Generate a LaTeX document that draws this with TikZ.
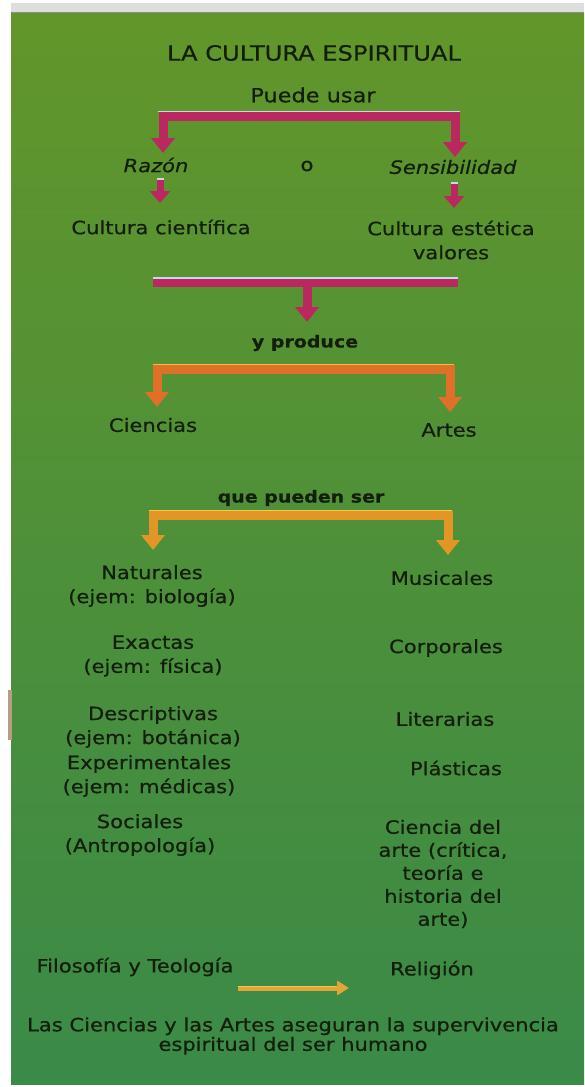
\documentclass[tikz,border=0pt]{standalone}
\usepackage{fontspec}
\setmainfont{DejaVu Sans}[FakeStretch=1.15,FakeBold=0.6]
\usetikzlibrary{arrows.meta,calc}
\definecolor{txt}{RGB}{20,30,12}
\definecolor{gtop}{RGB}{98,150,42}
\definecolor{gmid}{RGB}{74,140,52}
\definecolor{gbot}{RGB}{58,138,72}
\definecolor{mag}{RGB}{186,40,96}
\definecolor{maghl}{RGB}{200,215,235}
\definecolor{org}{RGB}{222,112,42}
\definecolor{orghl}{RGB}{238,190,60}
\definecolor{yor}{RGB}{226,150,40}
\definecolor{yorhl}{RGB}{240,205,70}
\definecolor{finarr}{RGB}{228,165,55}
\begin{document}
\begin{tikzpicture}[x=1pt,y=-1pt,
  lbl/.style={text=txt,inner sep=0pt,align=center,font=\fontsize{18.3}{24}\selectfont},
  itl/.style={lbl,font=\fontsize{18.3}{24}\selectfont\itshape},
  bld/.style={lbl,font=\fontsize{16.5}{22}\selectfont\bfseries},
  bigtip/.style={-{Triangle[width=23pt,length=15pt]}},
  brk/.style={line width=9pt,line join=miter,{Triangle[width=23pt,length=15pt]}-{Triangle[width=23pt,length=15pt]}},
  magbar/.style={draw=mag,line width=10pt},
  magarr/.style={draw=mag,line width=9pt,bigtip},
  smallarr/.style={draw=mag,line width=7pt,-{Triangle[width=20pt,length=12pt]}},
  hl/.style={line width=1.6pt},
]
\useasboundingbox (0,0) rectangle (584,1087);
% background
\fill[white] (0,0) rectangle (584,1087);
\fill[black!13] (11,3) rectangle (584,12);
\shade[top color=gtop,middle color=gmid,bottom color=gbot] (11,13) rectangle (584,1084);
\draw[black!45,line width=1pt] (11,12.5) -- (584,12.5);
\fill[brown!70!black!60] (8,690) rectangle (12,740);

% texts
\node[lbl,font=\fontsize{21}{24}\selectfont] (title) at (314,53) {LA CULTURA ESPIRITUAL};
\node[lbl,font=\fontsize{19.5}{24}\selectfont] (puede) at (313,95) {Puede usar};
\node[itl] (razon) at (156,165) {Razón};
\node[lbl] (o) at (307,166) {o};
\node[itl] (sens) at (453,167) {Sensibilidad};
\node[lbl] (cc) at (161,227) {Cultura científica};
\node[lbl] (ce) at (451,240) {Cultura estética\\valores};
\node[bld] (prod) at (305,343) {y produce};
\node[lbl] (cien) at (153,425) {Ciencias};
\node[lbl] (artes) at (449,430) {Artes};
\node[bld] (pueden) at (301,498) {que pueden ser};
\node[lbl] (nat) at (152,586) {Naturales\\(ejem: biología)};
\node[lbl] (exa) at (153,656) {Exactas\\(ejem: física)};
\node[lbl] (des) at (153,727) {Descriptivas\\(ejem: botánica)};
\node[lbl] (expe) at (149,776) {Experimentales\\(ejem: médicas)};
\node[lbl] (soc) at (140,835) {Sociales\\(Antropología)};
\node[lbl] (mus) at (442,578) {Musicales};
\node[lbl] (cor) at (446,648) {Corporales};
\node[lbl] (lit) at (445,719) {Literarias};
\node[lbl] (pla) at (456,768) {Plásticas};
\node[lbl,font=\fontsize{18.3}{23}\selectfont] (cda) at (443,874) {Ciencia del\\arte (crítica,\\teoría e\\historia del\\arte)};
\node[lbl] (fil) at (135,967) {Filosofía y Teología};
\node[lbl] (rel) at (432,970) {Religión};
\node[lbl,font=\fontsize{18.3}{19.5}\selectfont] (fin) at (293,1036) {Las Ciencias y las Artes aseguran la supervivencia\\espiritual del ser humano};

% coordinates of connectors
\coordinate (b1m) at (309,116);
\coordinate (t1l) at (163,153);
\coordinate (t1r) at (455,157);
\coordinate (s1a) at (160,178);
\coordinate (s1b) at (160,203);
\coordinate (s2a) at (454,182);
\coordinate (s2b) at (454,208);
\coordinate (b2l) at (153,282);
\coordinate (b2r) at (458,282);
\coordinate (b2m) at (307,282);
\coordinate (t2) at (307,322);
\coordinate (b3m) at (304,369);
\coordinate (t3l) at (157,407);
\coordinate (t3r) at (450,412);
\coordinate (b4m) at (300,515);
\coordinate (t4l) at (153,550);
\coordinate (t4r) at (448,555);
\coordinate (fa) at (238,988);
\coordinate (fb) at (349,988);

% magenta bracket: Puede usar -> Razón / Sensibilidad
\draw[brk,draw=mag] (t1l) |- (b1m) -| (t1r);
\draw[maghl,hl] (158,111.5) -- (460,111.5);
% small arrows
\draw[smallarr] (s1a) -- (s1b);
\draw[maghl,hl] ($(s1a)+(-3.5,0.8)$) -- ($(s1a)+(3.5,0.8)$);
\draw[smallarr] (s2a) -- (s2b);
\draw[maghl,hl] ($(s2a)+(-3.5,0.8)$) -- ($(s2a)+(3.5,0.8)$);
% magenta bar -> y produce
\draw[magbar] (b2l) -- (b2r);
\draw[magarr] (b2m) -- (t2);
\draw[maghl,hl] ($(b2l)+(0,-4.2)$) -- ($(b2r)+(0,-4.2)$);
% orange bracket: y produce -> Ciencias / Artes
\draw[brk,draw=org] (t3l) |- (b3m) -| (t3r);
\draw[orghl,hl] (153,364.5) -- (454,364.5);
% yellow-orange bracket: que pueden ser -> columns
\draw[brk,draw=yor] (t4l) |- (b4m) -| (t4r);
\draw[yorhl,hl] (149,510.5) -- (452,510.5);
% Filosofía y Teología -> Religión
\draw[draw=finarr,line width=5pt,-{Triangle[width=14pt,length=12pt]}] (fa) -- (fb);
\draw[yorhl,line width=1.2pt] ($(fa)+(0,-1.8)$) -- ($(fb)+(-12,-1.8)$);
\end{tikzpicture}
\end{document}
